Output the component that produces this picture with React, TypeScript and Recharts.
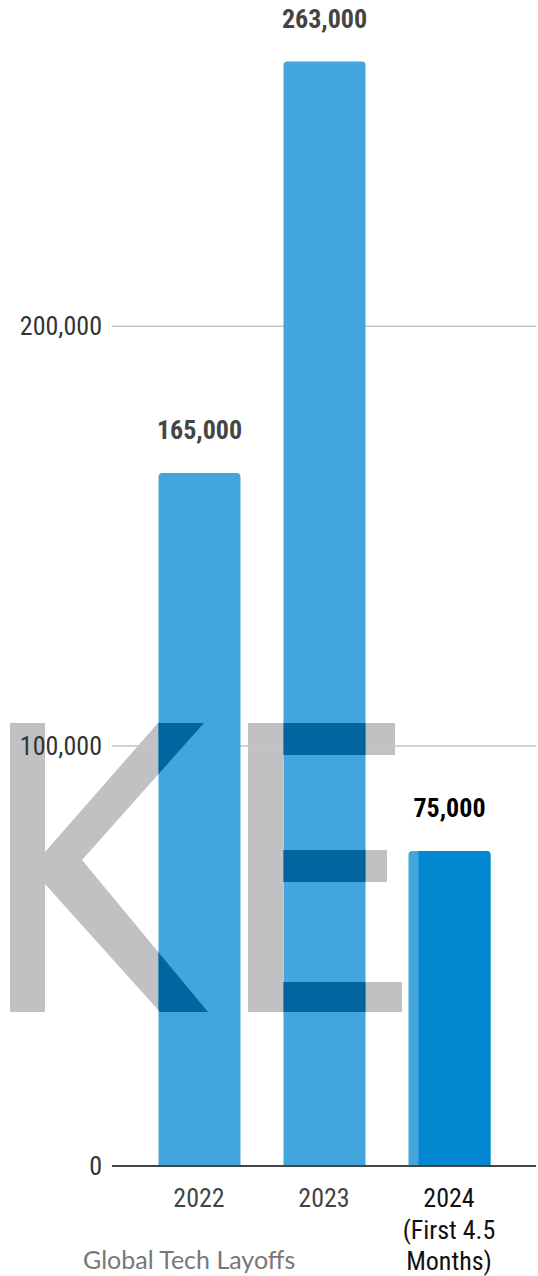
import React from 'react'
import { BarChart, Bar, CartesianGrid, XAxis, YAxis, LabelList } from 'recharts'

const years = ['2022', '2023', '2024\n(First 4.5\nMonths)']
const layoffs = [165000, 263000, 75000]
const yTicks = [0, 100000, 200000]
const title = 'Global Tech Layoffs'

const data = years.map((year, i) => ({ year, layoffs: layoffs[i] }))

const FONT = '"Liberation Sans Narrow", "Roboto Condensed", Roboto, "Liberation Sans", Arial, sans-serif'
const BLUE = '#42A5DC'
const BLUE_DARK = '#0288D1'
const WM_GRAY = '#C0C1C2'
const WM_BLUE = '#03659F'

// watermark "KE" drawn as outlines
const K_PATH =
  'M10,723 L45,723 L45,852 L158,723 L204,723 L82,860 L208,1012 L160,1012 L45,884 L45,1012 L10,1012 Z'
const E_PATH =
  'M248,723 L395,723 L395,755 L283,755 L283,850 L387,850 L387,882 L283,882 L283,982 L402,982 L402,1012 L248,1012 Z'

const fmt = (v: number) => v.toLocaleString('en-US')

const BarShape = (props: any) => {
  const { x, y, width, height, index } = props
  const r = 4
  const id = `wm-clip-${index}`
  const full = `M${x},${y + height} V${y + r} Q${x},${y} ${x + r},${y} H${x + width - r} Q${x + width},${y} ${x + width},${y + r} V${y + height} Z`
  return (
    <g>
      <defs>
        <clipPath id={id}>
          <rect x={x} y={y} width={width} height={height} />
        </clipPath>
      </defs>
      <path d={full} fill={BLUE} />
      {index === 2 && (
        <path
          d={`M${x + 10},${y + height} V${y} H${x + width - r} Q${x + width},${y} ${x + width},${y + r} V${y + height} Z`}
          fill={BLUE_DARK}
        />
      )}
      <g clipPath={`url(#${id})`}>
        <path d={K_PATH} fill={WM_BLUE} />
        <path d={E_PATH} fill={WM_BLUE} />
      </g>
    </g>
  )
}

const ValueLabel = (props: any) => {
  const { x, y, width, value, index } = props
  return (
    <text
      x={x + width / 2}
      y={y - 34}
      textAnchor="middle"
      fontFamily={FONT}
      fontWeight="bold"
      fontSize={26}
      fill={index === 2 ? '#000' : '#444'}
    >
      {fmt(value)}
    </text>
  )
}

const XTick = (props: any) => {
  const { x, y, payload, index } = props
  const lines = String(payload.value).split('\n')
  return (
    <text
      x={x}
      y={y + 33}
      textAnchor="middle"
      fontFamily={FONT}
      fontSize={26}
      fill={index === 2 ? '#111' : '#444'}
    >
      {lines.map((l, i) => (
        <tspan key={i} x={x} dy={i === 0 ? 0 : 31.5}>
          {l}
        </tspan>
      ))}
    </text>
  )
}

const App: React.FC = () => {
  return (
    <div style={{ position: 'absolute', left: 0, top: 0, width: 538, height: 1276, overflow: 'hidden', background: '#fff' }}>
      <svg width={538} height={1276} style={{ position: 'absolute', left: 0, top: 0 }}>
        <path d={K_PATH} fill={WM_GRAY} />
        <path d={E_PATH} fill={WM_GRAY} />
        <text x={83} y={1269} fontFamily="Lato, 'Open Sans', sans-serif" fontSize={25} fill="#777">
          {title}
        </text>
      </svg>
      <div style={{ position: 'absolute', left: 0, top: 0 }}>
        <BarChart
          width={538}
          height={1276}
          data={data}
          margin={{ top: 7, right: 2, left: 0, bottom: 0 }}
        >
          <CartesianGrid
            vertical={false}
            stroke="#c4c4c4"
            strokeWidth={1.5}
            horizontalValues={[100000, 200000]}
          />
          <XAxis
            dataKey="year"
            height={110}
            padding={{ left: 24.5, right: 24.5 }}
            tickLine={false}
            axisLine={{ stroke: '#444', strokeWidth: 2 }}
            tick={<XTick />}
            interval={0}
          />
          <YAxis
            width={112}
            domain={[0, 276000]}
            ticks={yTicks}
            tickFormatter={fmt}
            axisLine={false}
            tickLine={false}
            tickMargin={4}
            tick={{ fontFamily: FONT, fontSize: 26, fill: '#333' }}
          />
          <Bar dataKey="layoffs" barSize={82} shape={<BarShape />} isAnimationActive={false}>
            <LabelList dataKey="layoffs" content={<ValueLabel />} />
          </Bar>
        </BarChart>
      </div>
    </div>
  )
}

export default App
